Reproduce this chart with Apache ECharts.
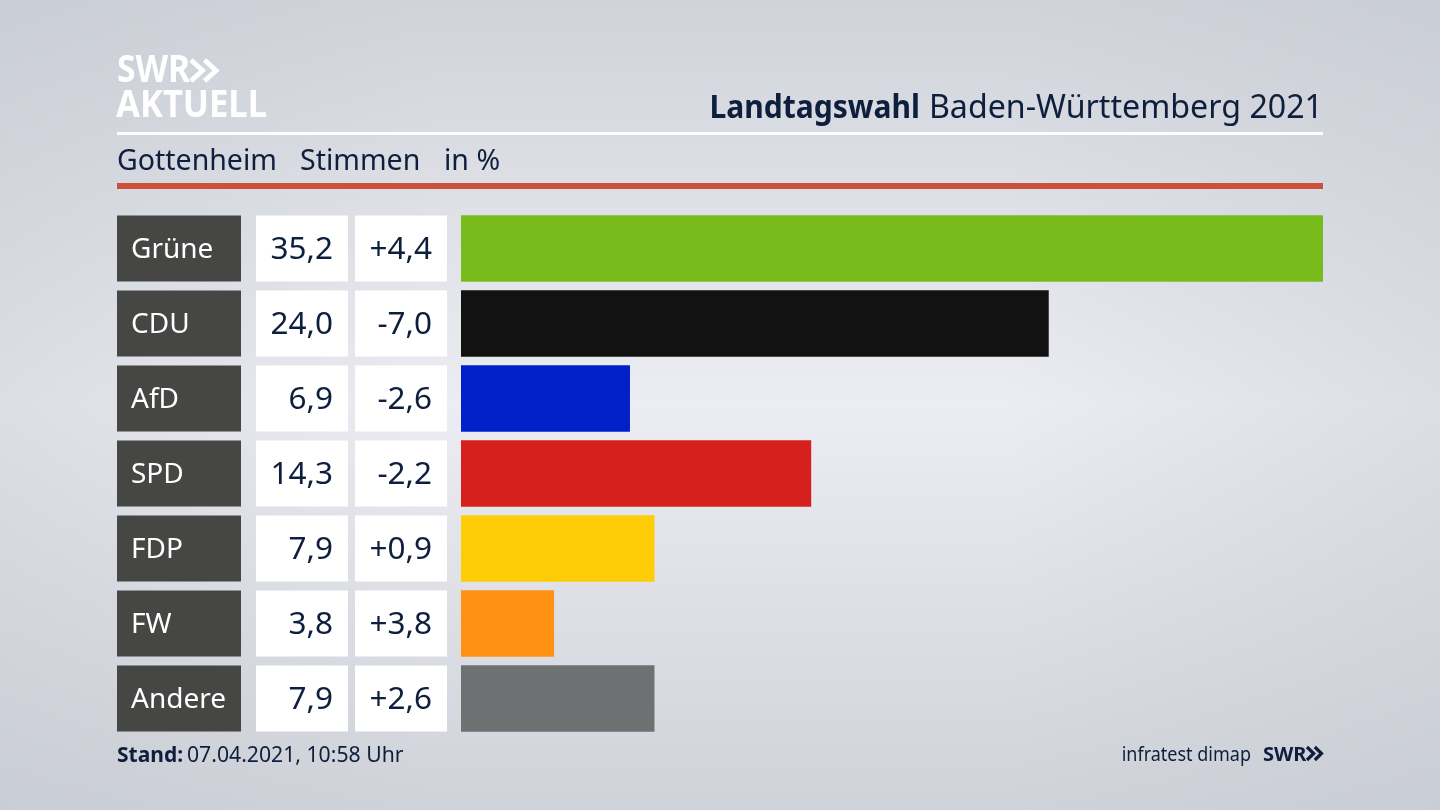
<!DOCTYPE html>
<html>
<head>
<meta charset="utf-8">
<title>Landtagswahl Baden-Württemberg 2021</title>
<style>
html, body { margin: 0; padding: 0; background: #dfe1e6; }
#chart { width: 1440px; height: 810px; }
</style>
<script src="https://cdn.jsdelivr.net/npm/echarts@6/dist/echarts.min.js"></script>
</head>
<body>
<div id="chart"></div>
<script>
var parties = ['Grüne', 'CDU', 'AfD', 'SPD', 'FDP', 'FW', 'Andere'];
var shares = [35.2, 24.0, 6.9, 14.3, 7.9, 3.8, 7.9];
var changes = [4.4, -7.0, -2.6, -2.2, 0.9, 3.8, 2.6];
var barColors = ['#78bc1b', '#121212', '#0021c8', '#d5201e', '#ffcc08', '#ff9115', '#6f7072'];
var subtitleParts = ['Gottenheim', 'Stimmen', 'in %'];

var FONT = '"Noto Sans", sans-serif';
var NAVY = '#0e1f3d';

function fmt(v) {
    return v.toFixed(1).replace('.', ',');
}
function fmtChange(v) {
    return (v > 0 ? '+' : '') + fmt(v);
}
function chevrons(x, y, w, h, lw, color) {
    // two ">" marks of the SWR logo
    var arm = w * 0.46;
    return [0, w - arm].map(function (dx) {
        return {
            type: 'polyline',
            shape: { points: [[x + dx, y], [x + dx + arm, y + h / 2], [x + dx, y + h]] },
            style: { fill: null, stroke: color, lineWidth: lw },
            z: 5
        };
    });
}
function txt(x, y, text, size, color, weight, align, scaleX) {
    return {
        type: 'text', x: x, y: y, z: 5, scaleX: scaleX || 1,
        style: {
            text: text, fontFamily: FONT, fontSize: size, fill: color,
            fontWeight: weight || 'normal', align: align || 'left', verticalAlign: 'middle'
        }
    };
}

var graphics = [
    // side vignette over the vertical background gradient
    {
        type: 'rect', z: -10,
        shape: { x: 0, y: 0, width: 1440, height: 810 },
        style: {
            fill: new echarts.graphic.LinearGradient(0, 0, 1, 0, [
                { offset: 0, color: 'rgba(190,195,204,0.35)' },
                { offset: 0.3, color: 'rgba(190,195,204,0)' },
                { offset: 0.7, color: 'rgba(190,195,204,0)' },
                { offset: 1, color: 'rgba(190,195,204,0.35)' }
            ])
        }
    },
    { type: 'rect', shape: { x: 117, y: 132, width: 1206, height: 3 }, style: { fill: '#ffffff' } },
    { type: 'rect', shape: { x: 117, y: 183, width: 1206, height: 6 }, style: { fill: '#cb5239' } },
    txt(117, 71, 'SWR', 37, '#ffffff', 'bold', 'left', 0.91),
    txt(116, 106, 'AKTUELL', 38, '#ffffff', 'bold', 'left', 0.91),
    txt(920, 109, 'Landtagswahl', 33, NAVY, 'bold', 'right', 0.91),
    txt(1323, 109, 'Baden-Württemberg 2021', 33, NAVY, 'normal', 'right', 0.975),
    txt(117, 162, subtitleParts[0], 28.5, NAVY),
    txt(300, 162, subtitleParts[1], 28.5, NAVY),
    txt(444, 162, subtitleParts[2], 28.5, NAVY),
    txt(117, 756, 'Stand:', 21, NAVY, 'bold'),
    txt(187, 756, '07.04.2021, 10:58 Uhr', 21.2, NAVY),
    txt(1251, 755, 'infratest dimap', 20, NAVY, 'normal', 'right', 0.9),
    txt(1263, 755, 'SWR', 20, NAVY, 'bold')
].concat(chevrons(191, 60, 25, 21, 5, '#ffffff'), chevrons(1307, 747, 14.5, 13, 3.2, NAVY));

var myChart = echarts.init(document.getElementById('chart'));
myChart.setOption({
    animation: false,
    backgroundColor: new echarts.graphic.LinearGradient(0, 0, 0, 1, [
        { offset: 0, color: '#d0d3da' },
        { offset: 0.5, color: '#ecedf2' },
        { offset: 1, color: '#cfd2d9' }
    ]),
    grid: { left: 461, top: 211, width: 862, height: 525 },
    xAxis: { type: 'value', min: 0, max: 35.2, show: false },
    yAxis: {
        type: 'category',
        inverse: true,
        data: parties,
        axisLine: { show: false },
        axisTick: { show: false },
        splitLine: { show: false },
        axisLabel: {
            margin: 14,
            formatter: function (name, i) {
                return '{name|' + name + '}{gapA| }{share|' + fmt(shares[i]) + '}{gapB| }{change|' + fmtChange(changes[i]) + '}';
            },
            rich: {
                name: {
                    width: 110, height: 62, padding: [4, 0, 0, 14], align: 'left',
                    backgroundColor: '#464644', color: '#ffffff', fontFamily: FONT, fontSize: 28
                },
                gapA: { width: 15, height: 66 },
                share: {
                    width: 77, height: 62, padding: [4, 15, 0, 0], align: 'right',
                    backgroundColor: '#ffffff', color: NAVY, fontFamily: FONT, fontSize: 31.5
                },
                gapB: { width: 7, height: 66 },
                change: {
                    width: 77, height: 62, padding: [4, 15, 0, 0], align: 'right',
                    backgroundColor: '#ffffff', color: NAVY, fontFamily: FONT, fontSize: 31.5
                }
            }
        }
    },
    series: [{
        type: 'bar',
        barWidth: 66.5,
        data: shares.map(function (v, i) {
            return { value: v, itemStyle: { color: barColors[i] } };
        })
    }],
    graphic: graphics
});
</script>
</body>
</html>
